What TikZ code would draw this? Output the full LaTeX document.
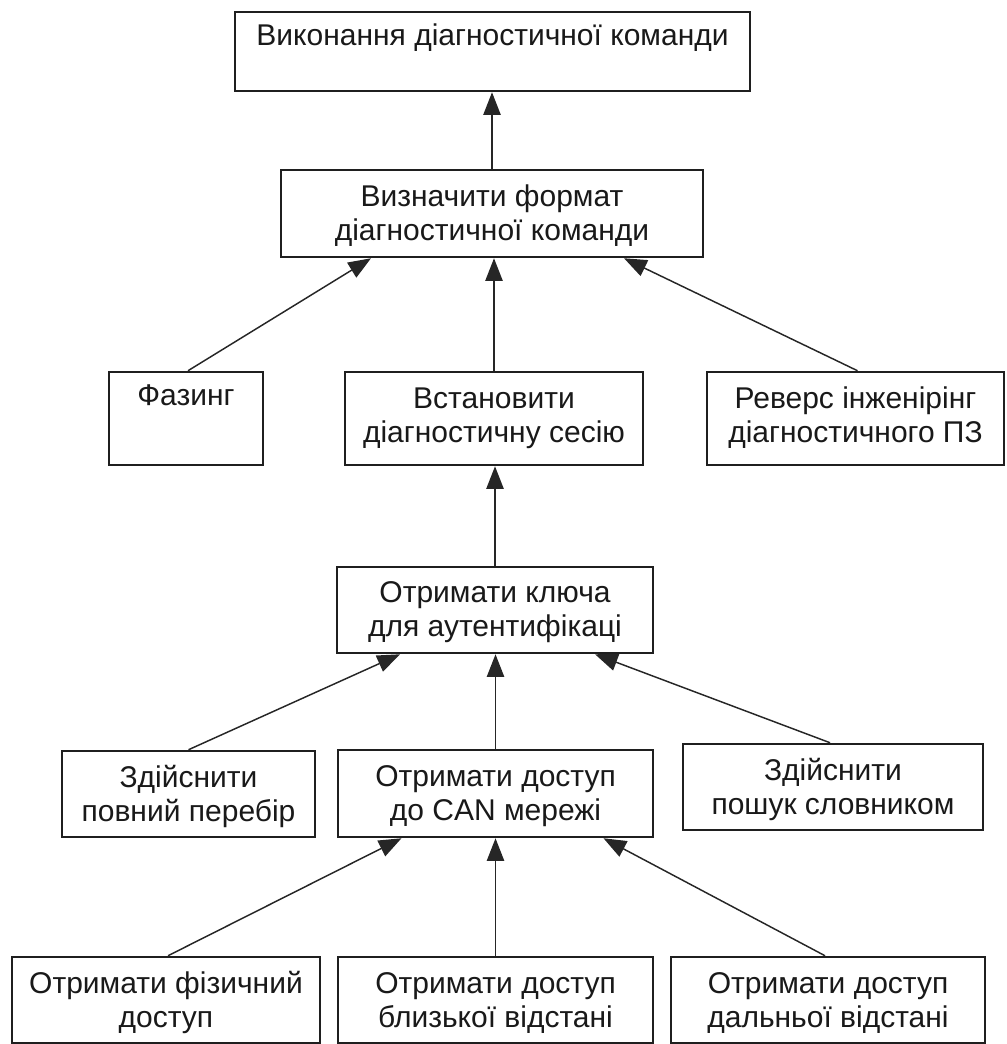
\documentclass[tikz,border=0pt]{standalone}
\usepackage{fontspec}
\setmainfont{Liberation Sans}
\usetikzlibrary{arrows.meta,calc}
\begin{document}
\begin{tikzpicture}[x=0.75pt,y=-0.75pt,
  box/.style n args={2}{draw=black!88, line width=1.9pt, fill=white,
    minimum width=#1, minimum height=#2, inner sep=0pt},
  lbl/.style={anchor=base, align=center, inner sep=0pt, text=black!90,
    font=\fontsize{22.5pt}{25.5pt}\selectfont},
  arr/.style={draw=black!85, line width=1.1pt,
    -{Triangle[length=17pt,width=13pt]}}]
\useasboundingbox (0,0) rectangle (1006,1044);

% boxes
\node[box={386.25pt}{59.25pt}] (b1) at (492.5,51.5) {};
\node[box={316.5pt}{65.25pt}] (b2) at (492,213.5) {};
\node[box={115.5pt}{69.75pt}] (faz) at (186,418.5) {};
\node[box={223.5pt}{69.75pt}] (vst) at (494,418.5) {};
\node[box={222.75pt}{69.75pt}] (rev) at (855.5,418.5) {};
\node[box={237pt}{64.5pt}] (klu) at (495,610) {};
\node[box={189.75pt}{64.5pt}] (per) at (188.5,794) {};
\node[box={236.25pt}{65.25pt}] (can) at (495.5,793.5) {};
\node[box={225pt}{64.5pt}] (pos) at (833,787) {};
\node[box={231pt}{64.5pt}] (fiz) at (166,1000) {};
\node[box={236.25pt}{64.5pt}] (blz) at (495.5,1000) {};
\node[box={235.5pt}{64.5pt}] (dal) at (828,1000) {};

% labels (base anchor = baseline of the last line)
\node[lbl] (t1) at ($(b1.north)+(0,35)$) {Виконання діагностичної команди};
\node[lbl] (t2) at ($(b2.north)+(0,72)$) {Визначити формат\\діагностичної команди};
\node[lbl] (t3) at ($(faz.north)+(0,35)$) {Фазинг};
\node[lbl] (t4) at ($(vst.north)+(0,72)$) {Встановити\\діагностичну сесію};
\node[lbl] (t5) at ($(rev.north)+(0,72)$) {Реверс інженірінг\\діагностичного ПЗ};
\node[lbl] (t6) at ($(klu.north)+(0,71)$) {Отримати ключа\\для аутентифікаці};
\node[lbl] (t7) at ($(per.north)+(0,72)$) {Здійснити\\повний перебір};
\node[lbl] (t8) at ($(can.north)+(0,72)$) {Отримати доступ\\до CAN мережі};
\node[lbl] (t9) at ($(pos.north)+(0,72)$) {Здійснити\\пошук словником};
\node[lbl] (t10) at ($(fiz.north)+(0,72)$) {Отримати фізичний\\доступ};
\node[lbl] (t11) at ($(blz.north)+(0,72)$) {Отримати доступ\\близької відстані};
\node[lbl] (t12) at ($(dal.north)+(0,72)$) {Отримати доступ\\дальньої відстані};

% connectors
\draw[arr] (b2.north) -- (b2.north |- b1.south);
\draw[arr] ($(faz.north)+(2,0)$) -- ($(b2.south)+(-121,0)$);
\draw[arr] (vst.north) -- (vst.north |- b2.south);
\draw[arr] ($(rev.north)+(2,0)$) -- ($(b2.south)+(132,0)$);
\draw[arr] (klu.north) -- (klu.north |- vst.south);
\draw[arr] (per.north) -- ($(klu.south)+(-95,0)$);
\draw[arr] (can.north) -- (can.north |- klu.south);
\draw[arr] ($(pos.north)+(-3,0)$) -- ($(klu.south)+(100,0)$);
\draw[arr] ($(fiz.north)+(2,0)$) -- ($(can.south)+(-94,0)$);
\draw[arr] (blz.north) -- (blz.north |- can.south);
\draw[arr] ($(dal.north)+(-3,0)$) -- ($(can.south)+(108,0)$);
\end{tikzpicture}
\end{document}
